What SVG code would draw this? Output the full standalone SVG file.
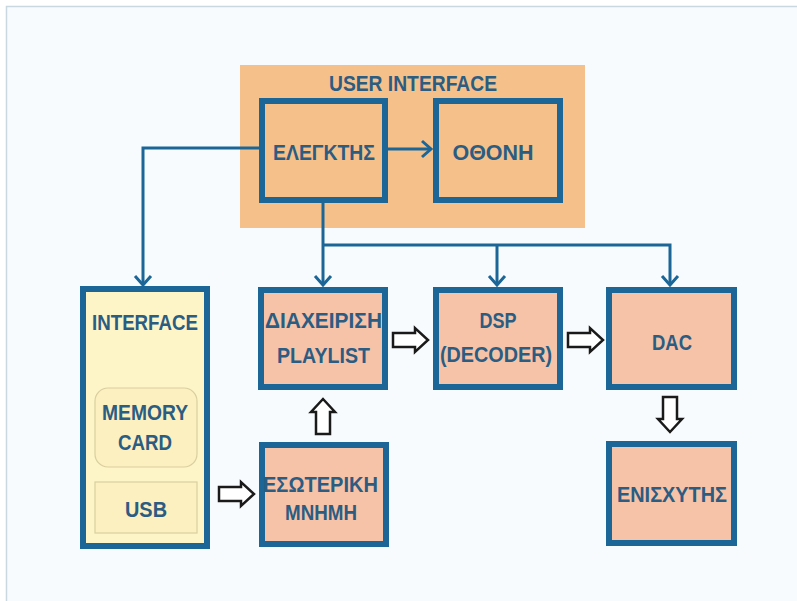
<svg xmlns="http://www.w3.org/2000/svg" xmlns:xlink="http://www.w3.org/1999/xlink" width="797" height="601" viewBox="0 0 797 601">
<style>
.box{fill:#f7c3a8;stroke:#1b6697;stroke-width:6}
.ctl{fill:none;stroke:#1b6697;stroke-width:6}
.lbl{font-family:"Liberation Sans","Arial",sans-serif;font-weight:bold;font-size:22.5px;fill:#2b5c82;text-anchor:middle}
.con{fill:none;stroke:#1b6697;stroke-width:3}
.blk{fill:#ffffff;stroke:#1a1a1a;stroke-width:2.5;stroke-linejoin:miter}
.inner{fill:#fcefc0;stroke:#d9cf9e;stroke-width:1.2}
</style>
<defs>
<marker id="v" markerUnits="userSpaceOnUse" viewBox="-12 -12 24 24" markerWidth="24" markerHeight="24" refX="0" refY="0" orient="auto">
<path d="M-9,-8 L0,0 L-9,8" fill="none" stroke="#1b6697" stroke-width="3"/>
</marker>
<path id="blk" d="M0,-7 H22 V-12 L35,0 L22,12 V7 H0 Z"/>
</defs>
<rect x="0" y="0" width="797" height="601" fill="#ffffff"/>
<rect x="6.5" y="6.5" width="800" height="600" fill="#f8fbfd" stroke="#c9d7e1" stroke-width="1.5"/>

<g id="user-interface">
<rect x="240" y="65" width="345" height="163" fill="#f6c08b"/>
<text class="lbl" x="413" y="91" textLength="168" lengthAdjust="spacingAndGlyphs">USER INTERFACE</text>
</g>
<g id="elegktis">
<rect class="ctl" x="262" y="101" width="123" height="99"/>
<text class="lbl" x="324" y="160" textLength="102" lengthAdjust="spacingAndGlyphs">ΕΛΕΓΚΤΗΣ</text>
</g>
<g id="othoni">
<rect class="ctl" x="436" y="101" width="124" height="99"/>
<text class="lbl" x="493" y="160" textLength="81" lengthAdjust="spacingAndGlyphs">ΟΘΟΝΗ</text>
</g>
<g id="interface">
<rect x="83" y="289" width="124" height="257" fill="#fdf4c8" stroke="#1b6697" stroke-width="6"/>
<text class="lbl" x="145" y="330" textLength="106" lengthAdjust="spacingAndGlyphs">INTERFACE</text>
<rect class="inner" x="95" y="388" width="102" height="79" rx="13"/>
<text class="lbl" x="145" y="420" textLength="86" lengthAdjust="spacingAndGlyphs">MEMORY</text>
<text class="lbl" x="145" y="450" textLength="54" lengthAdjust="spacingAndGlyphs">CARD</text>
<rect class="inner" x="95" y="482" width="102" height="51"/>
<text class="lbl" x="146" y="517" textLength="42" lengthAdjust="spacingAndGlyphs">USB</text>
</g>
<g id="playlist">
<rect class="box" x="261" y="290" width="124" height="97"/>
<text class="lbl" x="323.5" y="328" textLength="117" lengthAdjust="spacingAndGlyphs">ΔΙΑΧΕΙΡΙΣΗ</text>
<text class="lbl" x="323.5" y="363" textLength="93" lengthAdjust="spacingAndGlyphs">PLAYLIST</text>
</g>
<g id="dsp">
<rect class="box" x="436" y="290" width="124" height="97"/>
<text class="lbl" x="498" y="328" textLength="37" lengthAdjust="spacingAndGlyphs">DSP</text>
<text class="lbl" x="496" y="362" textLength="112" lengthAdjust="spacingAndGlyphs">(DECODER)</text>
</g>
<g id="dac">
<rect class="box" x="609" y="290" width="125" height="97"/>
<text class="lbl" x="672" y="350" textLength="40" lengthAdjust="spacingAndGlyphs">DAC</text>
</g>
<g id="enisxytis">
<rect class="box" x="609" y="444" width="125" height="99"/>
<text class="lbl" x="672" y="502" textLength="110" lengthAdjust="spacingAndGlyphs">ΕΝΙΣΧΥΤΗΣ</text>
</g>
<g id="esoteriki">
<rect class="box" x="262" y="445" width="124" height="99"/>
<text class="lbl" x="320.5" y="492" textLength="115" lengthAdjust="spacingAndGlyphs">ΕΣΩΤΕΡΙΚΗ</text>
<text class="lbl" x="321" y="520" textLength="72" lengthAdjust="spacingAndGlyphs">ΜΝΗΜΗ</text>
</g>

<g id="connectors">
<path class="con" d="M388,149 H431" marker-end="url(#v)"/>
<path class="con" d="M259,148 H143 V285" marker-end="url(#v)"/>
<path class="con" d="M323,203 V285" marker-end="url(#v)"/>
<path class="con" d="M323,245 H670 V285" marker-end="url(#v)"/>
<path class="con" d="M497,245 V285" marker-end="url(#v)"/>
<use xlink:href="#blk" class="blk" transform="translate(393,340)"/>
<use xlink:href="#blk" class="blk" transform="translate(568,340)"/>
<use xlink:href="#blk" class="blk" transform="translate(219,494)"/>
<use xlink:href="#blk" class="blk" transform="translate(323,434) rotate(-90)"/>
<use xlink:href="#blk" class="blk" transform="translate(670,397) rotate(90)"/>
</g>
</svg>
